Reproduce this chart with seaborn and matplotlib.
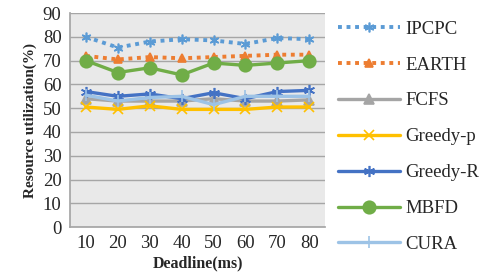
import matplotlib
matplotlib.use("Agg")
import matplotlib.pyplot as plt
import seaborn as sns
import pandas as pd

deadlines = [10, 20, 30, 40, 50, 60, 70, 80]
ipcpc = [80, 75.5, 78, 79, 78.5, 77, 79.5, 79]
earth = [72, 70.5, 71.5, 71, 71.5, 72, 72.5, 72.5]
fcfs = [54, 53, 53, 53, 54, 53, 53, 53.5]
greedy_p = [50.5, 49.5, 51, 49.5, 49.5, 49.5, 50.5, 50.5]
greedy_r = [57, 55, 56, 54, 56.5, 54, 57, 57.5]
mbfd = [70, 65, 67, 64, 69, 68, 69, 70]
cura = [55.5, 53, 54.5, 55, 51.5, 55, 55, 55]

series = [
    ("IPCPC", ipcpc, "#5B9BD5", (0, (1, 1.2)), (6, 2, 0), 7, 2.8),
    ("EARTH", earth, "#ED7D31", (0, (1, 1.2)), "^", 6, 2.8),
    ("FCFS", fcfs, "#A5A5A5", "-", "^", 7, 2.4),
    ("Greedy-p", greedy_p, "#FFC000", "-", "x", 7, 2.4),
    ("Greedy-R", greedy_r, "#4472C4", "-", (6, 2, 0), 8, 2.4),
    ("MBFD", mbfd, "#70AD47", "-", "o", 9, 2.4),
    ("CURA", cura, "#9DC3E6", "-", "|", 8, 2.4),
]

sns.set_theme(style="white")
plt.rcParams["font.family"] = ["Liberation Serif", "DejaVu Serif"]

fig = plt.figure(figsize=(4.79, 2.78), dpi=100)
ax = fig.add_axes([0.146, 0.183, 0.533, 0.770])
ax.set_facecolor("#e9e9e9")

for name, vals, color, ls, mk, ms, lw in series:
    df = pd.DataFrame({"Deadline": deadlines, "val": vals})
    sns.lineplot(data=df, x="Deadline", y="val", ax=ax, color=color,
                 linestyle=ls, marker=mk, markersize=ms, linewidth=lw,
                 markeredgecolor=color, markerfacecolor=color,
                 markeredgewidth=1.2, label=name, dash_capstyle="butt")

ax.set_xlim(5, 85)
ax.set_ylim(0, 90)
ax.set_xticks(deadlines)
ax.set_xticklabels([str(d) for d in deadlines], fontsize=13.5)
ax.set_yticks(range(0, 91, 10))
ax.set_yticklabels([str(v) for v in range(0, 91, 10)], fontsize=13.5)
ax.yaxis.grid(True, color="#a6a6a6", linewidth=1.0)
ax.set_axisbelow(True)
for s in ["top", "right"]:
    ax.spines[s].set_visible(False)
ax.spines["left"].set_color("#a6a6a6")
ax.spines["bottom"].set_color("#a6a6a6")
ax.tick_params(axis="both", length=0, pad=6)

ax.set_xlabel("Deadline(ms)", fontsize=11.5, fontweight="bold", labelpad=2)
ax.set_ylabel("Resource utilization(%)", fontsize=11, fontweight="bold", labelpad=4)

handles, labels = ax.get_legend_handles_labels()
ax.legend(handles, labels, loc="upper left", bbox_to_anchor=(1.02, 1.0),
          frameon=False, fontsize=13.5, labelspacing=1.0, handlelength=3.3,
          handletextpad=0.3, borderaxespad=0)

fig.savefig("out.png", dpi=100)
